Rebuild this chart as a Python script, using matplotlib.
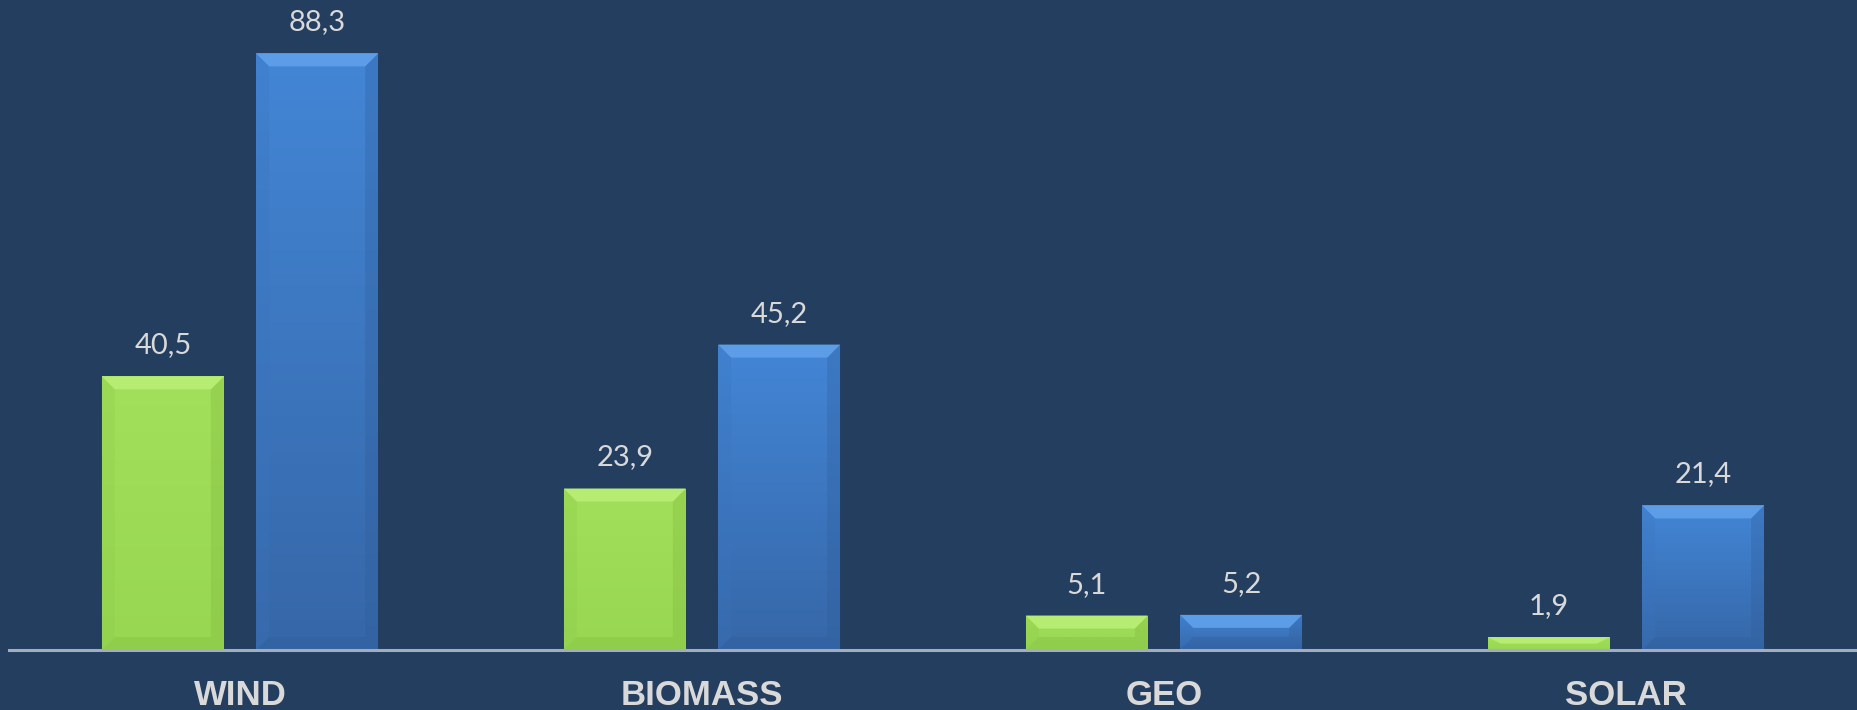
import numpy as np
import matplotlib.pyplot as plt
from matplotlib.colors import LinearSegmentedColormap
from matplotlib.patches import Polygon

categories = ["WIND", "BIOMASS", "GEO", "SOLAR"]
green_values = [40.5, 23.9, 5.1, 1.9]
blue_values = [88.3, 45.2, 5.2, 21.4]

BG = "#243e60"
TEXT = "#d9d9d9"

# (top colour, bottom colour, bevel top, bevel side, bevel bottom)
styles = {
    "green": ("#a2df5a", "#98d752", "#b6ec72", "#8ccb48", "#7fb63e"),
    "blue": ("#4386d6", "#3667a8", "#5d9de8", "#3b74bd", "#2f5c98"),
}

fig = plt.figure(figsize=(18.57, 7.10), dpi=100, facecolor=BG)
ax = fig.add_axes([9 / 1857, 60 / 710, 1848 / 1857, 650 / 710])
ax.set_facecolor(BG)

x = np.arange(len(categories))
width = 0.264
offset = 0.167
ax.set_xlim(-0.5, len(categories) - 0.5)
ax.set_ylim(0, 96.2)

px_x = 1 / 462.0     # data units per pixel, horizontal
px_y = 96.2 / 650.0  # data units per pixel, vertical


def fancy_bars(xs, values, style):
    top_c, bot_c, bev_top, bev_side, bev_bot = styles[style]
    cmap = LinearSegmentedColormap.from_list(style, [bot_c, top_c])
    bars = ax.bar(xs, values, width, color=top_c, zorder=2, linewidth=0)
    for bar, h in zip(bars, values):
        x0 = bar.get_x()
        x1 = x0 + bar.get_width()
        grad = np.linspace(0, 1, 100).reshape(-1, 1)
        im = ax.imshow(grad, extent=[x0, x1, 0, h], origin="lower",
                       aspect="auto", cmap=cmap, zorder=2.1)
        im.set_clip_path(bar)
        bx = 13 * px_x
        by = min(13 * px_y, h / 2)
        ax.add_patch(Polygon([(x0, h), (x1, h), (x1 - bx, h - by), (x0 + bx, h - by)],
                             closed=True, color=bev_top, lw=0, zorder=2.3))
        if h > 2 * by:
            ax.add_patch(Polygon([(x0, 0), (x0, h), (x0 + bx, h - by), (x0 + bx, by)],
                                 closed=True, color=bev_side, lw=0, zorder=2.2, alpha=0.25))
            ax.add_patch(Polygon([(x1, 0), (x1, h), (x1 - bx, h - by), (x1 - bx, by)],
                                 closed=True, color=bev_bot, lw=0, zorder=2.2, alpha=0.3))
            ax.add_patch(Polygon([(x0, 0), (x1, 0), (x1 - bx, by), (x0 + bx, by)],
                                 closed=True, color=bev_bot, lw=0, zorder=2.2, alpha=0.3))
        ax.text(bar.get_x() + bar.get_width() / 2, h + 3.4, f"{h:.1f}".replace(".", ","),
                ha="center", va="baseline", fontsize=21, color=TEXT, family="Lato")


fancy_bars(x - offset, green_values, "green")
fancy_bars(x + offset, blue_values, "blue")

for side in ["left", "right", "top"]:
    ax.spines[side].set_visible(False)
ax.spines["bottom"].set_color("#a3adbd")
ax.spines["bottom"].set_linewidth(2.2)
ax.spines["bottom"].set_zorder(3)
ax.set_yticks([])
ax.set_xticks(x, categories)
ax.tick_params(axis="x", length=0, pad=21, labelsize=25, labelcolor=TEXT)
for lbl in ax.get_xticklabels():
    lbl.set_fontweight("bold")
    lbl.set_family("Liberation Sans")

fig.savefig("out.png", dpi=100, facecolor=BG)
